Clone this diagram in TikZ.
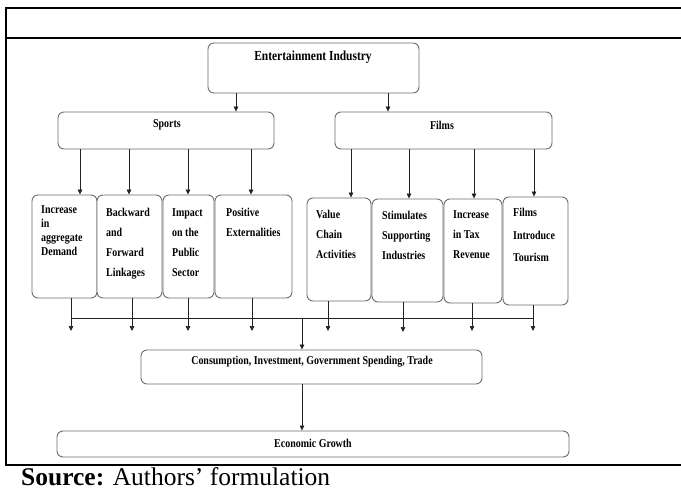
\documentclass[tikz,border=0pt]{standalone}
\usepackage{fontspec}
\setmainfont{Liberation Serif}
\newfontfamily\condfont[FakeStretch=0.83]{Liberation Serif}
\usetikzlibrary{arrows.meta}
\definecolor{boxgray}{HTML}{6E6E6E}
\definecolor{linegray}{HTML}{222222}
\begin{document}
\begin{tikzpicture}[x=1pt,y=-1pt,
  box/.style={draw=boxgray, line width=0.9pt, rounded corners=6pt, inner sep=0pt, fill=white},
  ttl/.style={font=\condfont\bfseries\fontsize{12}{14}\selectfont, inner sep=0pt, text=black},
  lbl/.style={font=\condfont\bfseries\fontsize{12}{20}\selectfont, inner sep=0pt, align=left, anchor=north west, text=black},
  arr/.style={draw=linegray, line width=0.7pt, -{Triangle[length=5pt,width=4.5pt]}},
  conn/.style={draw=linegray, line width=0.7pt},
  rule/.style={draw=black, line width=2.4pt}
]
\useasboundingbox (0,0) rectangle (681,492);
\fill[white] (0,0) rectangle (681,492);

% table frame
\draw[rule] (5,8) -- (681,8);
\draw[rule] (5,38) -- (681,38);
\draw[rule] (5,465) -- (681,465);
\draw[rule] (6,6.8) -- (6,466.2);

% top level boxes
\node[box, minimum width=211pt, minimum height=50pt] (ei) at (313.5,68) {};
\node[ttl, font=\condfont\bfseries\fontsize{13.8}{15}\selectfont] (eit) at (313,57) {Entertainment Industry};
\node[box, minimum width=216pt, minimum height=37pt] (sports) at (166,130.5) {};
\node[ttl] (sportst) at (167,125) {Sports};
\node[box, minimum width=217pt, minimum height=37pt] (films) at (443.5,130.5) {};
\node[ttl] (filmst) at (442,125) {Films};

% second level boxes
\node[box, minimum width=65pt, minimum height=103pt] (b1) at (64.5,246.5) {};
\node[box, minimum width=65pt, minimum height=103pt] (b2) at (129.5,246.5) {};
\node[box, minimum width=51pt, minimum height=103pt] (b3) at (188.5,246.5) {};
\node[box, minimum width=77pt, minimum height=103pt] (b4) at (253.5,246.5) {};
\node[box, minimum width=64pt, minimum height=103pt] (b5) at (339,249.5) {};
\node[box, minimum width=71pt, minimum height=103pt] (b6) at (407.5,250.5) {};
\node[box, minimum width=58pt, minimum height=104pt] (b7) at (473,251) {};
\node[box, minimum width=65pt, minimum height=108pt] (b8) at (535.5,251) {};

\node[lbl, font=\condfont\bfseries\fontsize{12}{14}\selectfont] (b1t) at (41,205) {Increase\\in\\aggregate\\Demand};
\node[lbl] (b2t) at (106,208) {Backward\\and\\Forward\\Linkages};
\node[lbl] (b3t) at (172,208) {Impact\\on the\\Public\\Sector};
\node[lbl] (b4t) at (226,208) {Positive\\Externalities};
\node[lbl] (b5t) at (316,210) {Value\\Chain\\Activities};
\node[lbl] (b6t) at (382,211) {Stimulates\\Supporting\\Industries};
\node[lbl] (b7t) at (453,210) {Increase\\in Tax\\Revenue};
\node[lbl, font=\condfont\bfseries\fontsize{12}{22.5}\selectfont] (b8t) at (513,208) {Films\\Introduce\\Tourism};

% lower boxes
\node[box, minimum width=341pt, minimum height=34pt] (cons) at (311.5,367) {};
\node[ttl] (const) at (312,362) {Consumption, Investment, Government Spending, Trade};
\node[box, minimum width=512pt, minimum height=26pt] (eg) at (313,444) {};
\node[ttl] (egt) at (313,443) {Economic Growth};

% x positions of connectors
\coordinate (xa) at (236,0);
\coordinate (xb) at (388,0);
\coordinate (s1) at (80,0);
\coordinate (s2) at (129,0);
\coordinate (s3) at (188,0);
\coordinate (s4) at (251,0);
\coordinate (f1) at (351,0);
\coordinate (f2) at (409,0);
\coordinate (f3) at (474,0);
\coordinate (f4) at (534,0);

\draw[arr] (xa |- ei.south) -- (xa |- sports.north);
\draw[arr] (xb |- ei.south) -- (xb |- films.north);
\draw[arr] (s1 |- sports.south) -- (s1 |- b1.north);
\draw[arr] (s2 |- sports.south) -- (s2 |- b2.north);
\draw[arr] (s3 |- sports.south) -- (s3 |- b3.north);
\draw[arr] (s4 |- sports.south) -- (s4 |- b4.north);
\draw[arr] (f1 |- films.south) -- (f1 |- b5.north);
\draw[arr] (f2 |- films.south) -- (f2 |- b6.north);
\draw[arr] (f3 |- films.south) -- (f3 |- b7.north);
\draw[arr] (f4 |- films.south) -- (f4 |- b8.north);

% outgoing arrows (free ends)
\coordinate (o1) at (71,331);
\coordinate (o2) at (132,331);
\coordinate (o3) at (188,331);
\coordinate (o4) at (252,331);
\coordinate (o5) at (328,331);
\coordinate (o6) at (403,332);
\coordinate (o7) at (472,331);
\coordinate (o8) at (533,331);
\draw[arr] (o1 |- b1.south) -- (o1);
\draw[arr] (o2 |- b2.south) -- (o2);
\draw[arr] (o3 |- b3.south) -- (o3);
\draw[arr] (o4 |- b4.south) -- (o4);
\draw[arr] (o5 |- b5.south) -- (o5);
\draw[arr] (o6 |- b6.south) -- (o6);
\draw[arr] (o7 |- b7.south) -- (o7);
\draw[arr] (o8 |- b8.south) -- (o8);

% collecting line
\coordinate (hl) at (71,318);
\coordinate (hr) at (533,318);
\coordinate (hm) at (302,318);
\draw[conn] (hl) -- (hr);
\draw[arr] (hm) -- (hm |- cons.north);
\draw[arr] (hm |- cons.south) -- (hm |- eg.north);

% source line
\node[anchor=base west, inner sep=0pt, font=\fontsize{25.5}{30}\selectfont] (src) at (21,485.5) {\textbf{Source:} Authors’ formulation};
\end{tikzpicture}
\end{document}
